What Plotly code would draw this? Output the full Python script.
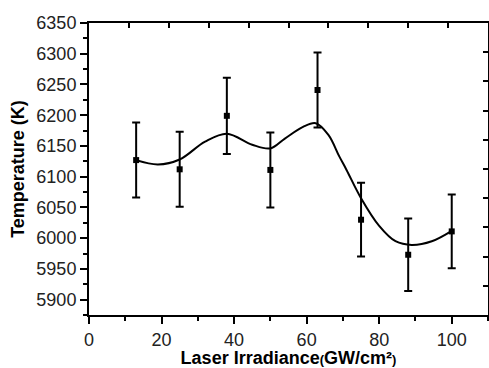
import plotly.graph_objects as go

# Measured data points
irradiance = [13, 25, 38, 50, 63, 75, 88, 100]
temperature = [6127, 6112, 6199, 6111, 6241, 6030, 5973, 6011]
temp_err = [61, 61, 62, 61, 61, 60, 59, 60]

# Smooth fit curve
curve_x = [13, 19, 25, 32, 38, 45, 50, 54, 59, 62.5, 66, 69, 71, 75, 80, 84.5, 89, 94.5, 100]
curve_y = [6127, 6120, 6128, 6157, 6170, 6152, 6146, 6162, 6181, 6187, 6168, 6133, 6111, 6065, 6020, 5995, 5989, 5995, 6012]

x_ticks = [0, 20, 40, 60, 80, 100]
y_ticks = [5900, 5950, 6000, 6050, 6100, 6150, 6200, 6250, 6300, 6350]
top_ticks = [11, 22, 33, 44, 55, 66, 77, 88, 99]
right_ticks = [5922.5, 5970, 6017.5, 6065, 6112.5, 6160, 6207.5, 6255, 6302.5]

FONT = "Liberation Sans, Arial, sans-serif"

fig = go.Figure()

fig.add_trace(go.Scatter(
    x=curve_x, y=curve_y, mode="lines",
    line=dict(color="black", width=2, shape="spline", smoothing=1.0),
    hoverinfo="skip", showlegend=False,
))

fig.add_trace(go.Scatter(
    x=irradiance, y=temperature, mode="markers",
    marker=dict(symbol="square", size=6, color="black"),
    error_y=dict(type="data", array=temp_err, visible=True,
                 color="black", thickness=2, width=4),
    showlegend=False,
))

# invisible trace for the mirror axes
fig.add_trace(go.Scatter(
    x=[0, 110], y=[5875, 6350], xaxis="x2", yaxis="y2",
    mode="markers", marker=dict(opacity=0), hoverinfo="skip", showlegend=False,
))

fig.update_layout(
    width=489, height=368,
    margin=dict(l=89, r=1, t=23, b=53),
    paper_bgcolor="white", plot_bgcolor="white",
    font=dict(family=FONT, size=17, color="#222"),
    xaxis=dict(
        range=[0, 110], tickvals=x_ticks, ticks="outside", ticklen=7,
        tickwidth=2, tickcolor="black", showline=True, linewidth=2,
        linecolor="black", showgrid=False, zeroline=False, automargin=False,
        tickfont=dict(size=18, color="#222"),
        minor=dict(ticks="outside", ticklen=4, tickwidth=2,
                   tickcolor="black", dtick=10, tick0=0, showgrid=False),
        title=dict(
            text="<b>Laser Irradiance<span style='font-size:13px'>(</span>GW/cm²<span style='font-size:13px'>)</span></b>",
            font=dict(size=18, color="black"), standoff=7),
    ),
    yaxis=dict(
        range=[5875, 6350], tickvals=y_ticks, ticks="outside", ticklen=7,
        tickwidth=2, tickcolor="black", showline=True, linewidth=2,
        linecolor="black", showgrid=False, zeroline=False, automargin=False,
        tickfont=dict(size=18, color="#222"),
        minor=dict(ticks="outside", ticklen=4, tickwidth=2,
                   tickcolor="black", dtick=25, tick0=5875, showgrid=False),
        title=dict(text="<b>Temperature (K)</b>",
                   font=dict(size=18, color="black"), standoff=7),
    ),
    xaxis2=dict(
        overlaying="x", side="top", range=[0, 110], tickvals=top_ticks,
        ticks="inside", ticklen=5, tickwidth=2, tickcolor="black",
        showticklabels=False, showline=True, linewidth=2, linecolor="black",
        showgrid=False, zeroline=False, automargin=False,
    ),
    yaxis2=dict(
        overlaying="y", side="right", range=[5875, 6350], tickvals=right_ticks,
        ticks="inside", ticklen=5, tickwidth=2, tickcolor="black",
        showticklabels=False, showline=True, linewidth=2, linecolor="black",
        showgrid=False, zeroline=False, automargin=False,
    ),
)

fig.write_html("out.html", config={"displayModeBar": False},
               post_script="document.body.style.margin='0';")
